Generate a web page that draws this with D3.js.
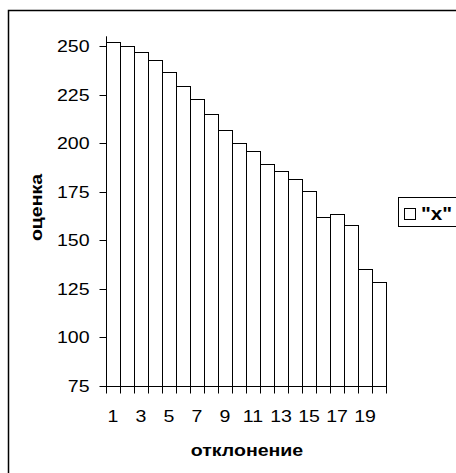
<!DOCTYPE html>
<html>
<head>
<meta charset="utf-8">
<script src="https://cdnjs.cloudflare.com/ajax/libs/d3/7.8.5/d3.min.js"></script>
<style>
    body { margin: 0; background: #fff; }
    text { font-family: "Liberation Sans", Arial, sans-serif; fill: #000; }
</style>
</head>
<body>
<div id="chart"></div>
<script>
// Chart data
const categories = d3.range(1, 21);
const values = [252, 250, 247, 243, 236.5, 229.5, 222.5, 215, 207, 200,
                196, 189.5, 185.5, 181.5, 175.5, 162, 163.5, 158, 135, 128.5];
const yTicks = [75, 100, 125, 150, 175, 200, 225, 250];
const xTickLabels = [1, 3, 5, 7, 9, 11, 13, 15, 17, 19];
const seriesName = '"x"';
const xTitle = "отклонение";
const yTitle = "оценка";

const width = 456, height = 473;
const stretch = 1.15; // the original text is a bit wider than Arial

let svg = d3.select("#chart").append("svg")
    .attr("width", width)
    .attr("height", height);

svg.append("rect")
    .attr("width", width)
    .attr("height", height)
    .attr("fill", "#fff");

// outer chart frame (runs off the right and bottom edge)
svg.append("rect")
    .attr("x", 8.5)
    .attr("y", 10.5)
    .attr("width", 600)
    .attr("height", 600)
    .attr("fill", "none")
    .attr("stroke", "#000")
    .attr("stroke-width", 1.5);

let x = d3.scaleBand()
    .domain(categories)
    .range([106, 386])
    .padding(0);

let y = d3.scaleLinear()
    .domain([75, 255])
    .range([386, 36.3]);

// places a stretched text label at (tx, ty)
function label(parent, tx, ty, txt, size, anchor, bold, rot) {
    const g = parent.append("g")
        .attr("transform", `translate(${tx},${ty})` + (rot ? ` rotate(${rot})` : "") + ` scale(${stretch},1)`);
    g.append("text")
        .attr("text-anchor", anchor)
        .style("font-size", size + "px")
        .style("font-weight", bold ? "bold" : "normal")
        .text(txt);
    return g;
}

// bars
svg.selectAll(".bar")
    .data(values)
    .enter().append("rect")
    .attr("class", "bar")
    .attr("x", (d, i) => Math.round(x(categories[i])) + 0.5)
    .attr("y", d => Math.round(y(d)) + 0.5)
    .attr("width", x.bandwidth())
    .attr("height", d => Math.round(y(75)) - Math.round(y(d)))
    .attr("fill", "#fff")
    .attr("stroke", "#000")
    .attr("stroke-width", 1);

// y axis
const yAxis = svg.append("g")
    .attr("transform", "translate(106.5,0)");
yAxis.append("line")
    .attr("y1", y(255))
    .attr("y2", y(75))
    .attr("stroke", "#000");
yAxis.selectAll(".ytick")
    .data(yTicks)
    .enter().append("line")
    .attr("x1", -7)
    .attr("x2", 0)
    .attr("y1", d => Math.round(y(d)) + 0.5)
    .attr("y2", d => Math.round(y(d)) + 0.5)
    .attr("stroke", "#000");
yTicks.forEach(d => label(yAxis, -17, y(d) + 6, d, 17, "end"));

// x axis
const xAxis = svg.append("g")
    .attr("transform", "translate(0,386.5)");
xAxis.append("line")
    .attr("x1", 106)
    .attr("x2", 386)
    .attr("stroke", "#000");
xAxis.selectAll(".xtick")
    .data(d3.range(0, 21))
    .enter().append("line")
    .attr("x1", i => Math.round(106 + i * x.step()) + 0.5)
    .attr("x2", i => Math.round(106 + i * x.step()) + 0.5)
    .attr("y1", 0)
    .attr("y2", 7)
    .attr("stroke", "#000");
xTickLabels.forEach(d => label(xAxis, x(d) + x.bandwidth() / 2, 35.5, d, 17, "middle"));

// axis titles
label(svg, 42, 207.5, yTitle, 17, "middle", true, -90);
label(svg, 247, 456, xTitle, 17, "middle", true);

// legend
const legend = svg.append("g");
legend.append("rect")
    .attr("x", 398.5)
    .attr("y", 197.5)
    .attr("width", 100)
    .attr("height", 29)
    .attr("fill", "#fff")
    .attr("stroke", "#000");
legend.append("rect")
    .attr("x", 404.5)
    .attr("y", 208.5)
    .attr("width", 11)
    .attr("height", 11)
    .attr("fill", "#fff")
    .attr("stroke", "#000");
label(legend, 421, 219.5, seriesName, 18, "start", true);
</script>
</body>
</html>
